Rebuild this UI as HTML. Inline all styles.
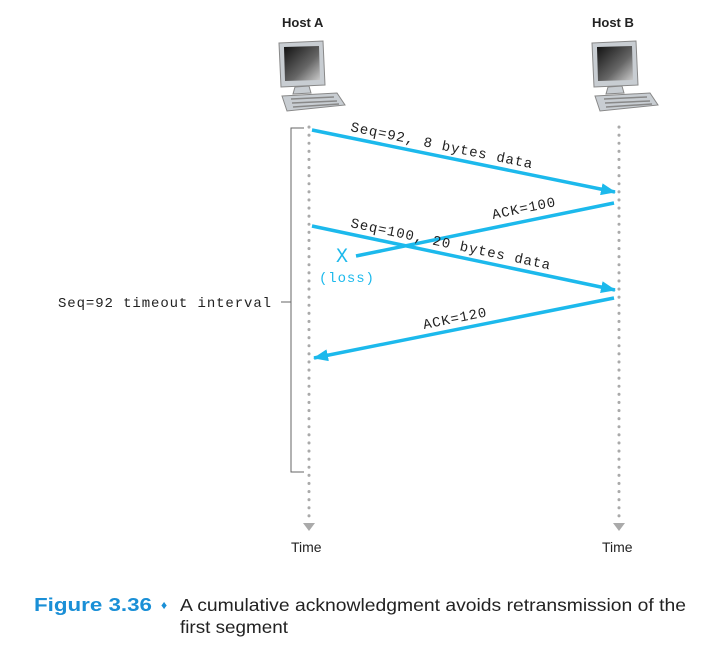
<!DOCTYPE html>
<html><head><meta charset="utf-8"><style>
body{margin:0;background:#fff;width:709px;height:653px;overflow:hidden}
svg{display:block}
.m{font-family:"Liberation Mono",monospace;font-size:14px;fill:#222;letter-spacing:0.9px}
.s{font-family:"Liberation Sans",sans-serif}
</style></head><body>
<svg width="709" height="653" viewBox="0 0 709 653">
<defs>
<linearGradient id="scr" x1="0" y1="0" x2="1" y2="1"><stop offset="0" stop-color="#111"/><stop offset="0.6" stop-color="#666"/><stop offset="1" stop-color="#ccc"/></linearGradient>
<g id="pc">
<path d="M0,2 L44,0 L46,44 L2,46 Z" fill="#c8cdd2" stroke="#888" stroke-width="1"/>
<path d="M5,6 L40,5 L41,39 L6,40 Z" fill="url(#scr)"/>
<path d="M16,46 L30,45 L32,52 L14,53 Z" fill="#c8cdd2" stroke="#888"/>
<path d="M3,55 L58,52 L66,64 L8,70 Z" fill="#c8cdd2" stroke="#888"/>
<path d="M12,58 L55,56 M13,62 L58,60 M14,66 L60,63" stroke="#888" stroke-width="1.5"/>
</g>
<marker id="ah" markerWidth="16" markerHeight="12" refX="14" refY="6" orient="auto" markerUnits="userSpaceOnUse"><path d="M0,0 L15,6 L0,12 Z" fill="#1cb9ec"/></marker>
</defs>
<text x="282" y="27" class="s" font-size="13" font-weight="bold" fill="#222">Host A</text>
<text x="592" y="27" class="s" font-size="13" font-weight="bold" fill="#222">Host B</text>
<use href="#pc" x="279" y="41"/>
<use href="#pc" x="592" y="41"/>
<line x1="309" y1="127" x2="309" y2="520" stroke="#aaa" stroke-width="3" stroke-dasharray="0.1,8" stroke-linecap="round"/>
<line x1="619" y1="127" x2="619" y2="520" stroke="#aaa" stroke-width="3" stroke-dasharray="0.1,8" stroke-linecap="round"/>
<path d="M303,523 L315,523 L309,531 Z" fill="#aaa"/>
<path d="M613,523 L625,523 L619,531 Z" fill="#aaa"/>
<path d="M304,128 L291,128 L291,472 L304,472" stroke="#666" fill="none" stroke-width="1"/>
<line x1="281" y1="302" x2="291" y2="302" stroke="#666"/>
<text x="58" y="307" class="m">Seq=92 timeout interval</text>
<g stroke="#1cb9ec" stroke-width="3.5" fill="none">
<line x1="312" y1="130" x2="615" y2="192" marker-end="url(#ah)"/>
<line x1="614" y1="203" x2="356" y2="256"/>
<line x1="312" y1="226" x2="615" y2="290" marker-end="url(#ah)"/>
<line x1="614" y1="298" x2="314" y2="358" marker-end="url(#ah)"/>
</g>
<text class="m" transform="translate(350,131) rotate(11.6)">Seq=92, 8 bytes data</text>
<text class="m" transform="translate(493,219) rotate(-11.6)">ACK=100</text>
<text class="m" transform="translate(350,227) rotate(12)">Seq=100, 20 bytes data</text>
<text class="m" transform="translate(424,329) rotate(-11.4)">ACK=120</text>
<text x="336" y="262" font-family="Liberation Mono,monospace" font-size="20" fill="#1cb9ec">X</text>
<text x="319" y="282" class="m" style="fill:#1cb9ec">(loss)</text>
<text x="291" y="552" class="s" font-size="14" fill="#222">Time</text>
<text x="602" y="552" class="s" font-size="14" fill="#222">Time</text>
<text x="34" y="611" class="s" font-size="18" font-weight="bold" fill="#1a8fd6" textLength="118" lengthAdjust="spacingAndGlyphs">Figure 3.36</text>
<text x="161" y="609" class="s" font-size="12" fill="#1a8fd6">♦</text>
<text x="180" y="611" class="s" font-size="17.5" fill="#222" textLength="506" lengthAdjust="spacingAndGlyphs">A cumulative acknowledgment avoids retransmission of the</text>
<text x="180" y="633" class="s" font-size="17.5" fill="#222" textLength="108" lengthAdjust="spacingAndGlyphs">first segment</text>
</svg>
</body></html>
